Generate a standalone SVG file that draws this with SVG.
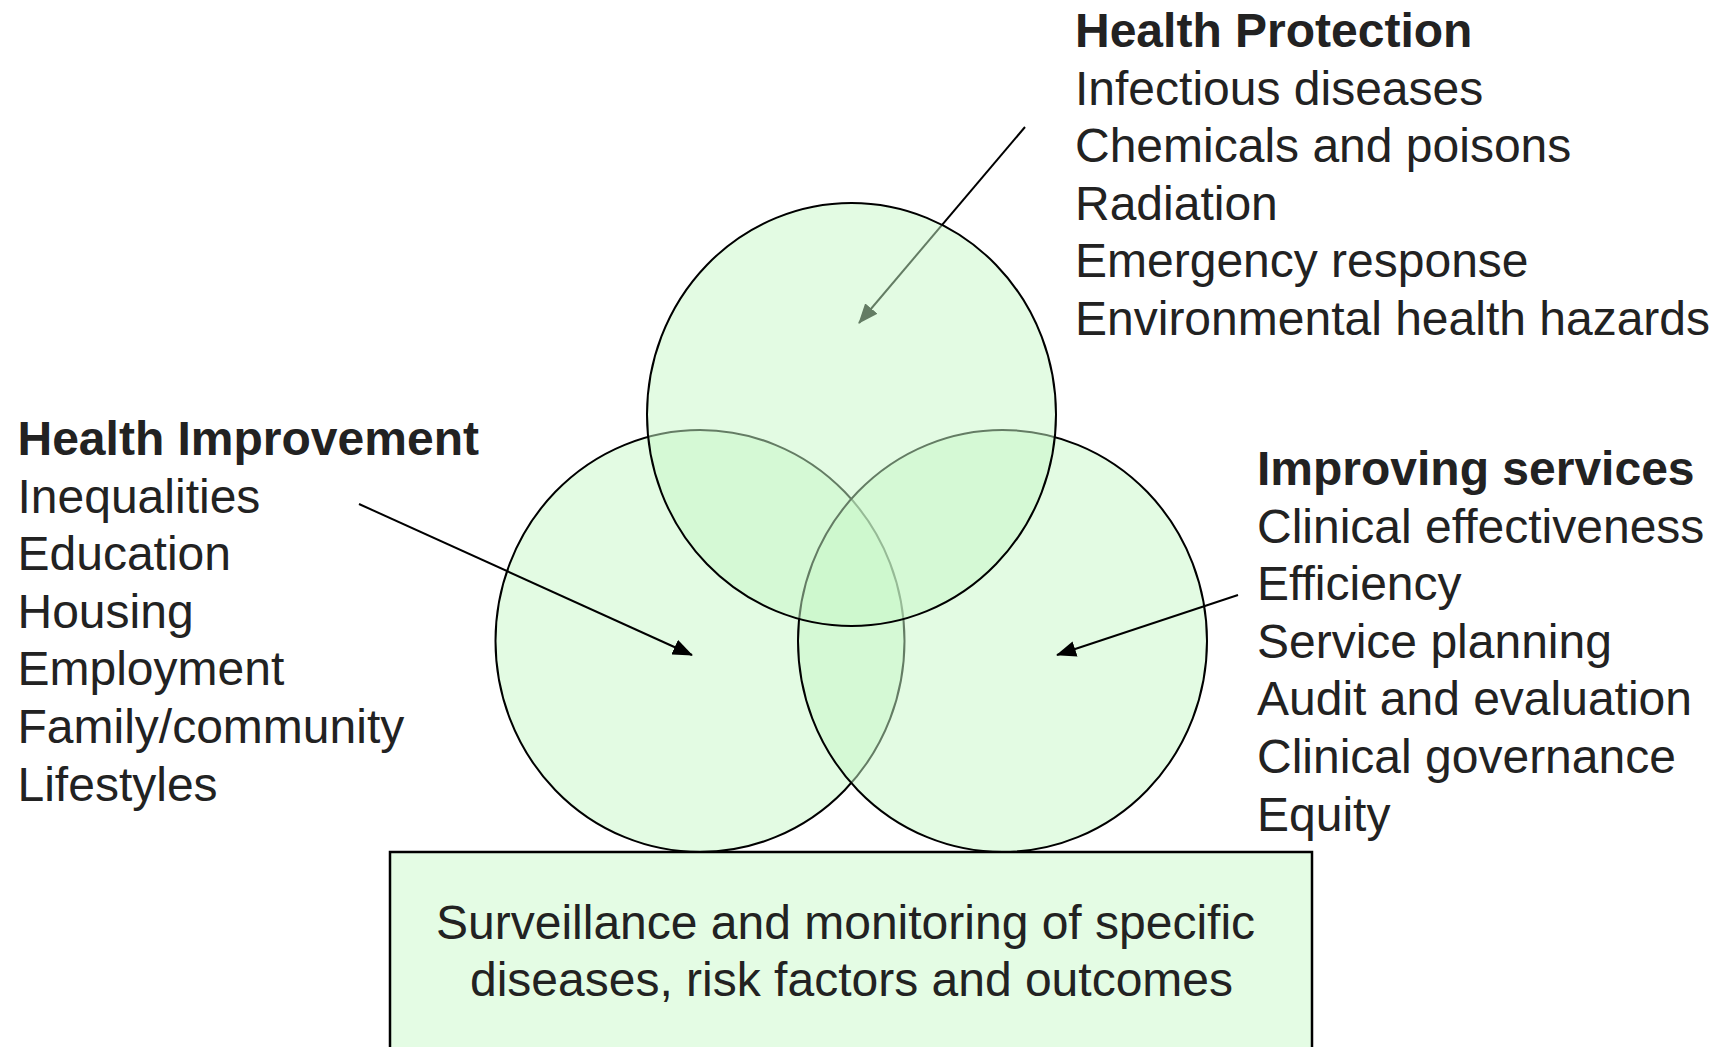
<svg xmlns="http://www.w3.org/2000/svg" width="1719" height="1047" viewBox="0 0 1719 1047">
<style>
.circ{fill:#c8f7c8;fill-opacity:0.5;stroke:#000;stroke-width:2}
.box{fill:#e4fce4;stroke:#000;stroke-width:2.5}
.t{font-family:"Liberation Sans",Arial,sans-serif;font-size:48px;fill:#222}
.b{font-weight:bold}
.conn{stroke:#000;stroke-width:2;fill:none;marker-end:url(#ah)}
</style>
<defs>
<marker id="ah" viewBox="0 0 20 16" markerWidth="20" markerHeight="16" refX="19" refY="8" orient="auto" markerUnits="userSpaceOnUse">
<path d="M0,0 L20,8 L0,16 z" fill="#000"/>
</marker>
</defs>
<rect width="1719" height="1047" fill="#fff"/>
<g id="health-improvement">
<ellipse class="circ" cx="700" cy="641" rx="204.5" ry="211"/>
<text class="t b" x="17.5" y="455">Health Improvement</text>
<text class="t" x="17.5" y="512.6">Inequalities</text>
<text class="t" x="17.5" y="570.2">Education</text>
<text class="t" x="17.5" y="627.8">Housing</text>
<text class="t" x="17.5" y="685.4">Employment</text>
<text class="t" x="17.5" y="743">Family/community</text>
<text class="t" x="17.5" y="800.6">Lifestyles</text>
</g>
<g id="improving-services">
<ellipse class="circ" cx="1002.5" cy="641" rx="204.5" ry="211"/>
<text class="t b" x="1257" y="485">Improving services</text>
<text class="t" x="1257" y="542.6">Clinical effectiveness</text>
<text class="t" x="1257" y="600.2">Efficiency</text>
<text class="t" x="1257" y="657.8">Service planning</text>
<text class="t" x="1257" y="715.4">Audit and evaluation</text>
<text class="t" x="1257" y="773">Clinical governance</text>
<text class="t" x="1257" y="830.6">Equity</text>
</g>
<g id="connectors">
<line class="conn" x1="1025" y1="127" x2="859" y2="323"/>
<line class="conn" x1="359" y1="504" x2="692" y2="655"/>
<line class="conn" x1="1238" y1="595" x2="1057" y2="655"/>
</g>
<g id="health-protection">
<ellipse class="circ" cx="851.5" cy="414.5" rx="204.5" ry="211.5"/>
<text class="t b" x="1075" y="47">Health Protection</text>
<text class="t" x="1075" y="104.6">Infectious diseases</text>
<text class="t" x="1075" y="162.2">Chemicals and poisons</text>
<text class="t" x="1075" y="219.8">Radiation</text>
<text class="t" x="1075" y="277.4">Emergency response</text>
<text class="t" x="1075" y="335">Environmental health hazards</text>
</g>
<g id="surveillance">
<rect class="box" x="390" y="852" width="922" height="210"/>
<text class="t" x="436" y="939">Surveillance and monitoring of specific</text>
<text class="t" x="470" y="996">diseases, risk factors and outcomes</text>
</g>
</svg>
